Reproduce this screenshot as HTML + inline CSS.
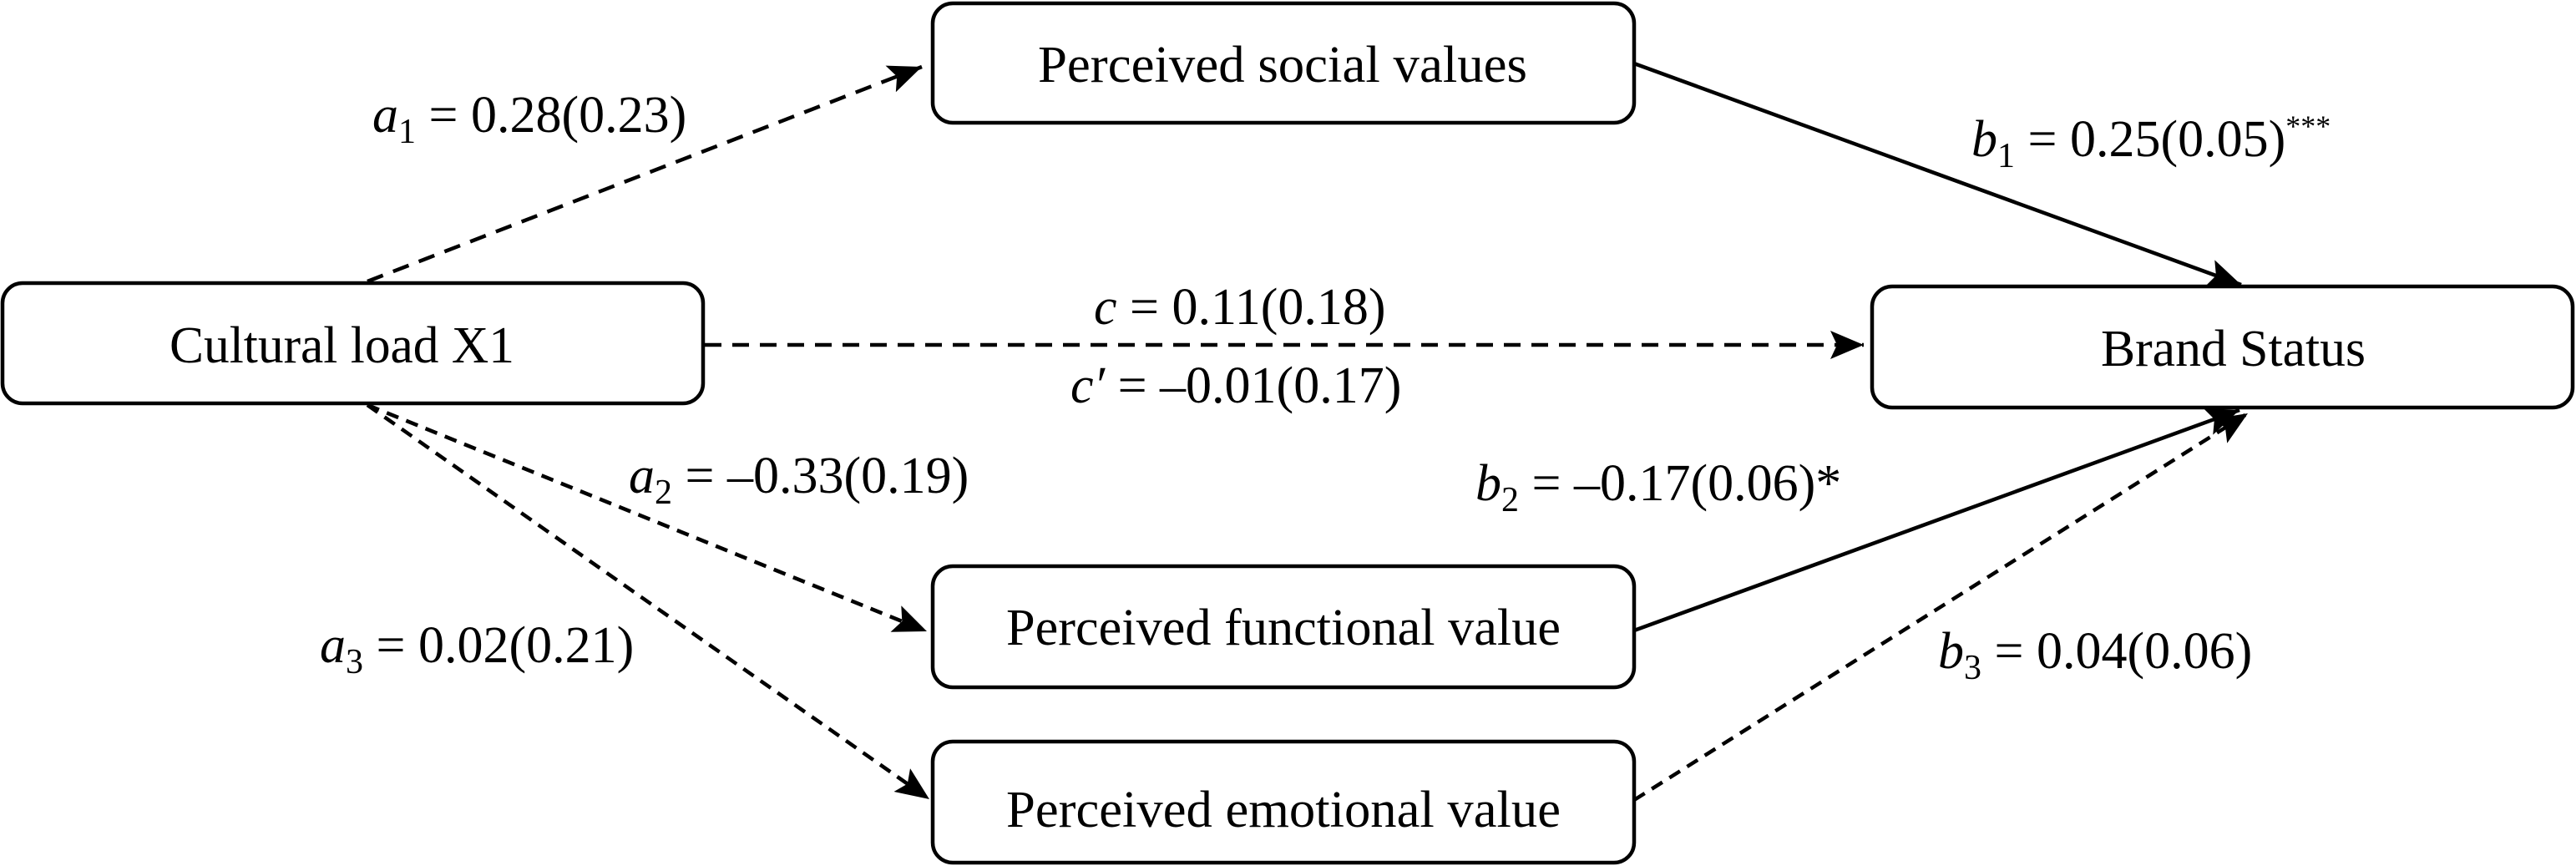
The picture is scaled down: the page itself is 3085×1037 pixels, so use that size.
<!DOCTYPE html>
<html><head><meta charset="utf-8"><style>
html,body{margin:0;padding:0;background:#fff}
svg{display:block}
text{font-family:"Liberation Serif",serif;fill:#000}
</style></head><body>
<svg width="3085" height="1037" viewBox="0 0 3085 1037" xmlns="http://www.w3.org/2000/svg">
<defs>
<marker id="ah" markerUnits="userSpaceOnUse" markerWidth="44" markerHeight="34" refX="40" refY="17" orient="auto">
<path d="M0,0 L40,17 L0,34 L8,17 Z" fill="#000"/>
</marker>
</defs>
<g fill="#fff" stroke="#000" stroke-width="4.5">
<rect x="1117" y="4" width="840" height="143" rx="24"/>
<rect x="3" y="339" width="839" height="144" rx="24"/>
<rect x="2242" y="343" width="839" height="145" rx="24"/>
<rect x="1117" y="678" width="840" height="145" rx="24"/>
<rect x="1117" y="888" width="840" height="145" rx="24"/>
</g>
<g stroke="#000" stroke-width="4.5" fill="none">
<line x1="440" y1="337" x2="1104" y2="80" stroke-dasharray="20,13" marker-end="url(#ah)"/>
<line x1="844" y1="413" x2="2232" y2="413" stroke-dasharray="20,13" marker-end="url(#ah)"/>
<line x1="440" y1="485" x2="1110" y2="756" stroke-dasharray="15,10" marker-end="url(#ah)"/>
<line x1="440" y1="485" x2="1113" y2="957" stroke-dasharray="15,10" marker-end="url(#ah)"/>
<line x1="1957" y1="76" x2="2684" y2="341" marker-end="url(#ah)"/>
<line x1="1957" y1="755" x2="2682" y2="491" marker-end="url(#ah)"/>
<line x1="1957" y1="958" x2="2692" y2="495" stroke-dasharray="15,10" marker-end="url(#ah)"/>
</g>
<g font-size="62">
<text x="1243" y="98" textLength="586" lengthAdjust="spacingAndGlyphs">Perceived social values</text>
<text x="203" y="434" textLength="413" lengthAdjust="spacingAndGlyphs">Cultural load X1</text>
<text x="2516" y="438" textLength="317" lengthAdjust="spacingAndGlyphs">Brand Status</text>
<text x="1205" y="772" textLength="664" lengthAdjust="spacingAndGlyphs">Perceived functional value</text>
<text x="1205" y="990" textLength="664" lengthAdjust="spacingAndGlyphs">Perceived emotional value</text>
</g>
<g font-size="62">
<text x="446" y="158"><tspan font-style="italic">a</tspan><tspan font-size="42" dy="13">1</tspan><tspan dy="-13"> = 0.28(0.23)</tspan></text>
<text x="2361" y="187"><tspan font-style="italic">b</tspan><tspan font-size="42" dy="13">1</tspan><tspan dy="-13"> = 0.25(0.05)</tspan><tspan font-size="36" dy="-24">***</tspan></text>
<text x="1310" y="388"><tspan font-style="italic">c</tspan> = 0.11(0.18)</text>
<text x="1282" y="482"><tspan font-style="italic">c′</tspan> = –0.01(0.17)</text>
<text x="753" y="590"><tspan font-style="italic">a</tspan><tspan font-size="42" dy="13">2</tspan><tspan dy="-13"> = –0.33(0.19)</tspan></text>
<text x="1767" y="599"><tspan font-style="italic">b</tspan><tspan font-size="42" dy="13">2</tspan><tspan dy="-13"> = –0.17(0.06)*</tspan></text>
<text x="383" y="793"><tspan font-style="italic">a</tspan><tspan font-size="42" dy="13">3</tspan><tspan dy="-13"> = 0.02(0.21)</tspan></text>
<text x="2321" y="800"><tspan font-style="italic">b</tspan><tspan font-size="42" dy="13">3</tspan><tspan dy="-13"> = 0.04(0.06)</tspan></text>
</g>
</svg>
</body></html>
